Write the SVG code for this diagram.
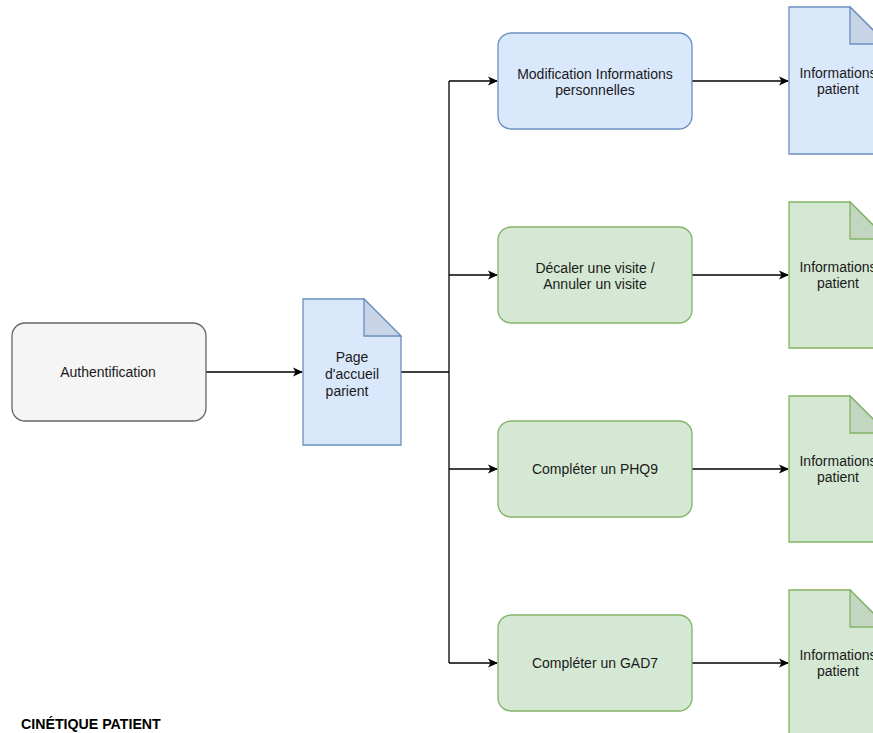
<svg xmlns="http://www.w3.org/2000/svg" width="873" height="733" viewBox="0 0 873 733">
<style>
text{font-family:"Liberation Sans",Arial,sans-serif;font-size:14px;fill:#1a1a1a;text-anchor:middle}
.gray{fill:#f5f5f5;stroke:#666666;stroke-width:1.3}
.blue{fill:#dae8fc;stroke:#6c8ebf;stroke-width:1.3}
.green{fill:#d5e8d4;stroke:#82b366;stroke-width:1.3}
.bfold{fill:#c8d5e7;stroke:#6c8ebf;stroke-width:1.3}
.gfold{fill:#c3d6c2;stroke:#82b366;stroke-width:1.3}
.edge{fill:none;stroke:#000;stroke-width:1.3}
.title{font-weight:bold;font-size:14.2px;text-anchor:start;fill:#000}
</style>
<defs>
<marker id="arr" viewBox="0 0 10 10" refX="9" refY="5" markerWidth="10" markerHeight="10" markerUnits="userSpaceOnUse" orient="auto">
<path d="M0,0.5 L10,5 L0,9.5 L2.5,5 Z" fill="#000"/>
</marker>
</defs>
<rect width="873" height="733" fill="#fff"/>
<g id="connectors">
<path class="edge" d="M206,372 H302" marker-end="url(#arr)"/>
<path class="edge" d="M401,372 H449"/>
<path class="edge" d="M449,81 V663"/>
<path class="edge" d="M449,81 H497" marker-end="url(#arr)"/>
<path class="edge" d="M449,275 H497" marker-end="url(#arr)"/>
<path class="edge" d="M449,469 H497" marker-end="url(#arr)"/>
<path class="edge" d="M449,663 H497" marker-end="url(#arr)"/>
<path class="edge" d="M692,81 H788" marker-end="url(#arr)"/>
<path class="edge" d="M692,275 H788" marker-end="url(#arr)"/>
<path class="edge" d="M692,469 H788" marker-end="url(#arr)"/>
<path class="edge" d="M692,663 H788" marker-end="url(#arr)"/>
</g>
<g id="auth">
<rect class="gray" x="12" y="323" width="194" height="98" rx="13"/>
<text x="108" y="377">Authentification</text>
</g>
<g id="accueil">
<path class="blue" d="M303,299 H364 L401,336 V445 H303 Z"/>
<path class="bfold" d="M364,299 V336 H401 Z"/>
<text x="352" y="362">Page</text>
<text x="352" y="379">d'accueil</text>
<text x="347" y="396">parient</text>
</g>
<g id="modif">
<rect class="blue" x="498" y="33" width="194" height="96" rx="13"/>
<text x="595" y="79">Modification Informations</text>
<text x="595" y="95">personnelles</text>
</g>
<g id="decaler">
<rect class="green" x="498" y="227" width="194" height="96" rx="13"/>
<text x="595" y="273">Décaler une visite /</text>
<text x="595" y="289">Annuler un visite</text>
</g>
<g id="phq9">
<rect class="green" x="498" y="421" width="194" height="96" rx="13"/>
<text x="595" y="474">Compléter un PHQ9</text>
</g>
<g id="gad7">
<rect class="green" x="498" y="615" width="194" height="96" rx="13"/>
<text x="595" y="668">Compléter un GAD7</text>
</g>
<g id="info1">
<path class="blue" d="M789,7 H850 L887,44 V154 H789 Z"/>
<path class="bfold" d="M850,7 V44 H887 Z"/>
<text x="838" y="78">Informations</text>
<text x="838" y="94">patient</text>
</g>
<g id="info2">
<path class="green" d="M789,202 H850 L887,239 V348 H789 Z"/>
<path class="gfold" d="M850,202 V239 H887 Z"/>
<text x="838" y="272">Informations</text>
<text x="838" y="288">patient</text>
</g>
<g id="info3">
<path class="green" d="M789,396 H850 L887,433 V542 H789 Z"/>
<path class="gfold" d="M850,396 V433 H887 Z"/>
<text x="838" y="466">Informations</text>
<text x="838" y="482">patient</text>
</g>
<g id="info4">
<path class="green" d="M789,590 H850 L887,627 V736 H789 Z"/>
<path class="gfold" d="M850,590 V627 H887 Z"/>
<text x="838" y="660">Informations</text>
<text x="838" y="676">patient</text>
</g>
<text class="title" x="21" y="729">CINÉTIQUE PATIENT</text>
</svg>
